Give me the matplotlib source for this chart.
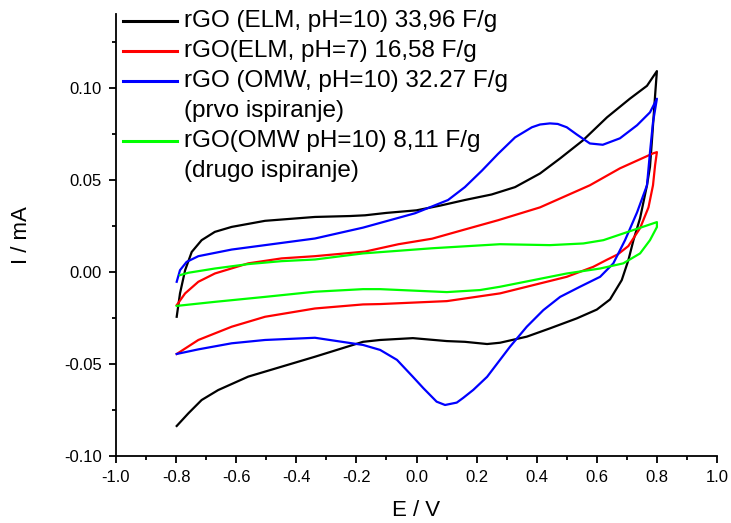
import numpy as np
import matplotlib
matplotlib.use('Agg')
import matplotlib.pyplot as plt
from matplotlib.ticker import MultipleLocator, FormatStrFormatter

plt.rcParams['font.family'] = ['Liberation Sans', 'DejaVu Sans']

# cyclic voltammograms, scan order: -0.8 -> 0.8 (upper branch) -> -0.8 (lower branch)
elm10_E = [-0.798, -0.787, -0.770, -0.748, -0.715, -0.671, -0.615, -0.504, -0.338, -0.221,
           -0.171, -0.100, 0.000, 0.080, 0.161, 0.250, 0.328, 0.411, 0.478,
           0.554, 0.634, 0.710, 0.767, 0.800,
           0.794, 0.784, 0.777, 0.767, 0.744, 0.722, 0.705, 0.683, 0.644, 0.600,
           0.533, 0.444, 0.367, 0.278, 0.235, 0.161, 0.101, -0.012, -0.121, -0.178,
           -0.338, -0.449, -0.560, -0.660, -0.715, -0.759, -0.798]
elm10_I = [-0.0244, -0.0117, 0.0009, 0.0108, 0.0172, 0.0217, 0.0244, 0.0277, 0.0298, 0.0303,
           0.0307, 0.0320, 0.0334, 0.0360, 0.0390, 0.0420, 0.0460, 0.0534, 0.0616,
           0.0714, 0.0839, 0.0940, 0.1010, 0.1090,
           0.0958, 0.0724, 0.0570, 0.0470, 0.0291, 0.0172, 0.0063, -0.0045, -0.0150, -0.0205,
           -0.0253, -0.0307, -0.0352, -0.0385, -0.0392, -0.0380, -0.0376, -0.0360, -0.0370, -0.0380,
           -0.0461, -0.0515, -0.0569, -0.0642, -0.0696, -0.0768, -0.0837]

elm7_E = [-0.798, -0.770, -0.726, -0.671, -0.560, -0.449, -0.338, -0.171, -0.060, 0.052,
          0.161, 0.271, 0.411, 0.577, 0.677, 0.787, 0.800,
          0.794, 0.787, 0.772, 0.744, 0.705, 0.670, 0.633, 0.588, 0.500, 0.389, 0.278,
          0.101, -0.121, -0.178, -0.338, -0.504, -0.615, -0.726, -0.798]
elm7_I = [-0.0181, -0.0117, -0.0054, -0.0009, 0.0046, 0.0073, 0.0085, 0.0110, 0.0150, 0.0180,
          0.0230, 0.0280, 0.0350, 0.0470, 0.0562, 0.0643, 0.0650,
          0.0579, 0.0470, 0.0350, 0.0237, 0.0140, 0.0095, 0.0065, 0.0027, -0.0027, -0.0072, -0.0117,
          -0.0159, -0.0175, -0.0177, -0.0199, -0.0244, -0.0298, -0.0370, -0.0446]

omw1_E = [-0.798, -0.787, -0.765, -0.726, -0.615, -0.504, -0.338, -0.178, -0.005, 0.105,
          0.161, 0.218, 0.271, 0.328, 0.384, 0.411, 0.444, 0.470, 0.500, 0.534, 0.577, 0.620,
          0.677, 0.734, 0.777, 0.800,
          0.787, 0.777, 0.767, 0.734, 0.694, 0.655, 0.611, 0.544, 0.478, 0.422,
          0.367, 0.311, 0.235, 0.189, 0.155, 0.134, 0.095, 0.067, 0.023, -0.012, -0.065, -0.121,
          -0.178, -0.338, -0.504, -0.615, -0.726, -0.798]
omw1_I = [-0.0054, 0.0009, 0.0054, 0.0085, 0.0121, 0.0145, 0.0181, 0.0240, 0.0318, 0.0390,
          0.0460, 0.0550, 0.0640, 0.0730, 0.0785, 0.0800, 0.0806, 0.0803, 0.0785, 0.0745, 0.0697, 0.0690,
          0.0725, 0.0796, 0.0866, 0.0940,
          0.0812, 0.0649, 0.0470, 0.0323, 0.0172, 0.0046, -0.0027, -0.0081, -0.0136, -0.0208,
          -0.0298, -0.0407, -0.0570, -0.0641, -0.0685, -0.0710, -0.0723, -0.0705, -0.0632, -0.0570,
          -0.0478, -0.0424,
          -0.0397, -0.0358, -0.0370, -0.0388, -0.0421, -0.0446]

omw2_E = [-0.787, -0.759, -0.671, -0.560, -0.449, -0.338, -0.178, 0.052, 0.278, 0.444,
          0.555, 0.622, 0.720, 0.800,
          0.800, 0.777, 0.744, 0.688, 0.611, 0.500, 0.389, 0.278, 0.211, 0.101,
          -0.121, -0.178, -0.338, -0.504, -0.671, -0.798]
omw2_I = [-0.0018, -0.0005, 0.0018, 0.0042, 0.0058, 0.0067, 0.0100, 0.0128, 0.0150, 0.0145,
          0.0154, 0.0172, 0.0226, 0.0270,
          0.0243, 0.0172, 0.0100, 0.0046, 0.0018, -0.0009, -0.0045, -0.0081, -0.0099, -0.0110,
          -0.0094, -0.0094, -0.0108, -0.0136, -0.0163, -0.0185]

labels = [['rGO (ELM, pH=10) 33,96 F/g'],
          ['rGO(ELM, pH=7) 16,58 F/g'],
          ['rGO (OMW, pH=10) 32.27 F/g', '(prvo ispiranje)'],
          ['rGO(OMW pH=10) 8,11 F/g', '(drugo ispiranje)']]
colors = ['#000000', '#ff0000', '#0000ff', '#00ff00']

fig = plt.figure(figsize=(7.31, 5.23), dpi=100)
ax = fig.add_axes([116 / 731, 67 / 523, 601 / 731, 442 / 523])

curves = [(elm10_E, elm10_I), (elm7_E, elm7_I), (omw1_E, omw1_I), (omw2_E, omw2_I)]
for (e, i), c in zip(curves, colors):
    ax.plot(e, i, color=c, lw=1.6, solid_joinstyle='round')

ax.set_xlim(-1.0, 1.0)
ax.set_ylim(-0.10, 0.14)
ax.xaxis.set_major_locator(MultipleLocator(0.2))
ax.xaxis.set_minor_locator(MultipleLocator(0.1))
ax.yaxis.set_major_locator(MultipleLocator(0.05))
ax.yaxis.set_minor_locator(MultipleLocator(0.025))
ax.xaxis.set_major_formatter(FormatStrFormatter('%.1f'))
ax.yaxis.set_major_formatter(FormatStrFormatter('%.2f'))
ax.spines['top'].set_visible(False)
ax.spines['right'].set_visible(False)
for s in ['left', 'bottom']:
    ax.spines[s].set_linewidth(1.3)
ax.tick_params(which='major', direction='out', length=5, width=1.3, labelsize=12, pad=5)
ax.tick_params(which='minor', direction='out', length=3, width=1.3)

ax.set_xlabel('E / V', fontsize=16, labelpad=11)
ax.set_ylabel('I / mA', fontsize=16, labelpad=23)

# legend drawn by hand (Origin style, handle at first line of each entry)
rows = [0.985, 0.917, 0.849, 0.713]
for y0, lab, c in zip(rows, labels, colors):
    ax.plot([0.0116, 0.1015], [y0, y0], color=c, lw=2.2, transform=ax.transAxes, clip_on=False)
    for k, line in enumerate(lab):
        ax.text(0.113, y0 - k * 0.068, line, transform=ax.transAxes, fontsize=17.5,
                va='center', ha='left')

fig.savefig('out.png', dpi=100)
